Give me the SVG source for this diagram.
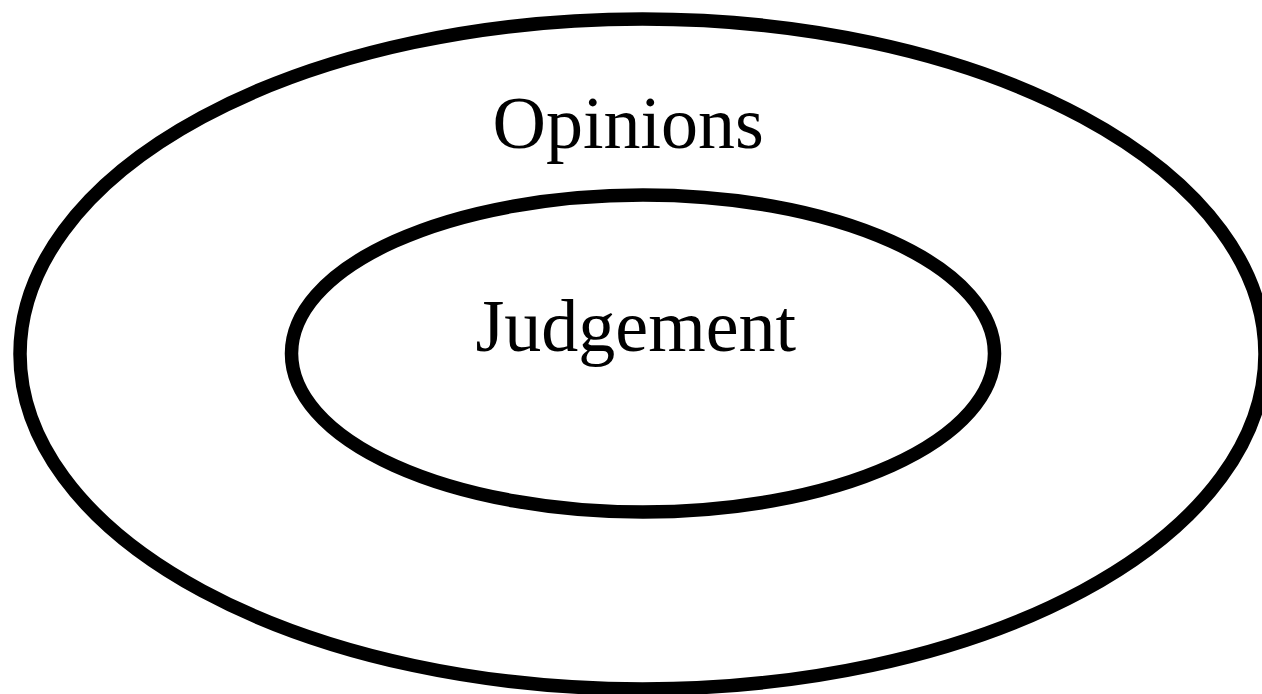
<svg xmlns="http://www.w3.org/2000/svg" width="1262" height="694" viewBox="0 0 1262 694">
<style>
.ring{fill:none;stroke:#000;stroke-width:13.5}
.lbl{font-family:"Liberation Serif","Times New Roman",serif;font-size:74px;fill:#000}
</style>
<rect width="1262" height="694" fill="#fff"/>
<g id="opinions">
<ellipse class="ring" cx="642.5" cy="354" rx="622.5" ry="335"/>
<text class="lbl" x="492.5" y="148">Opinions</text>
</g>
<g id="judgement">
<ellipse class="ring" cx="643" cy="353.5" rx="351.5" ry="158.5"/>
<text class="lbl" x="475.5" y="351">Judgement</text>
</g>
<g id="connectors"/>
</svg>
